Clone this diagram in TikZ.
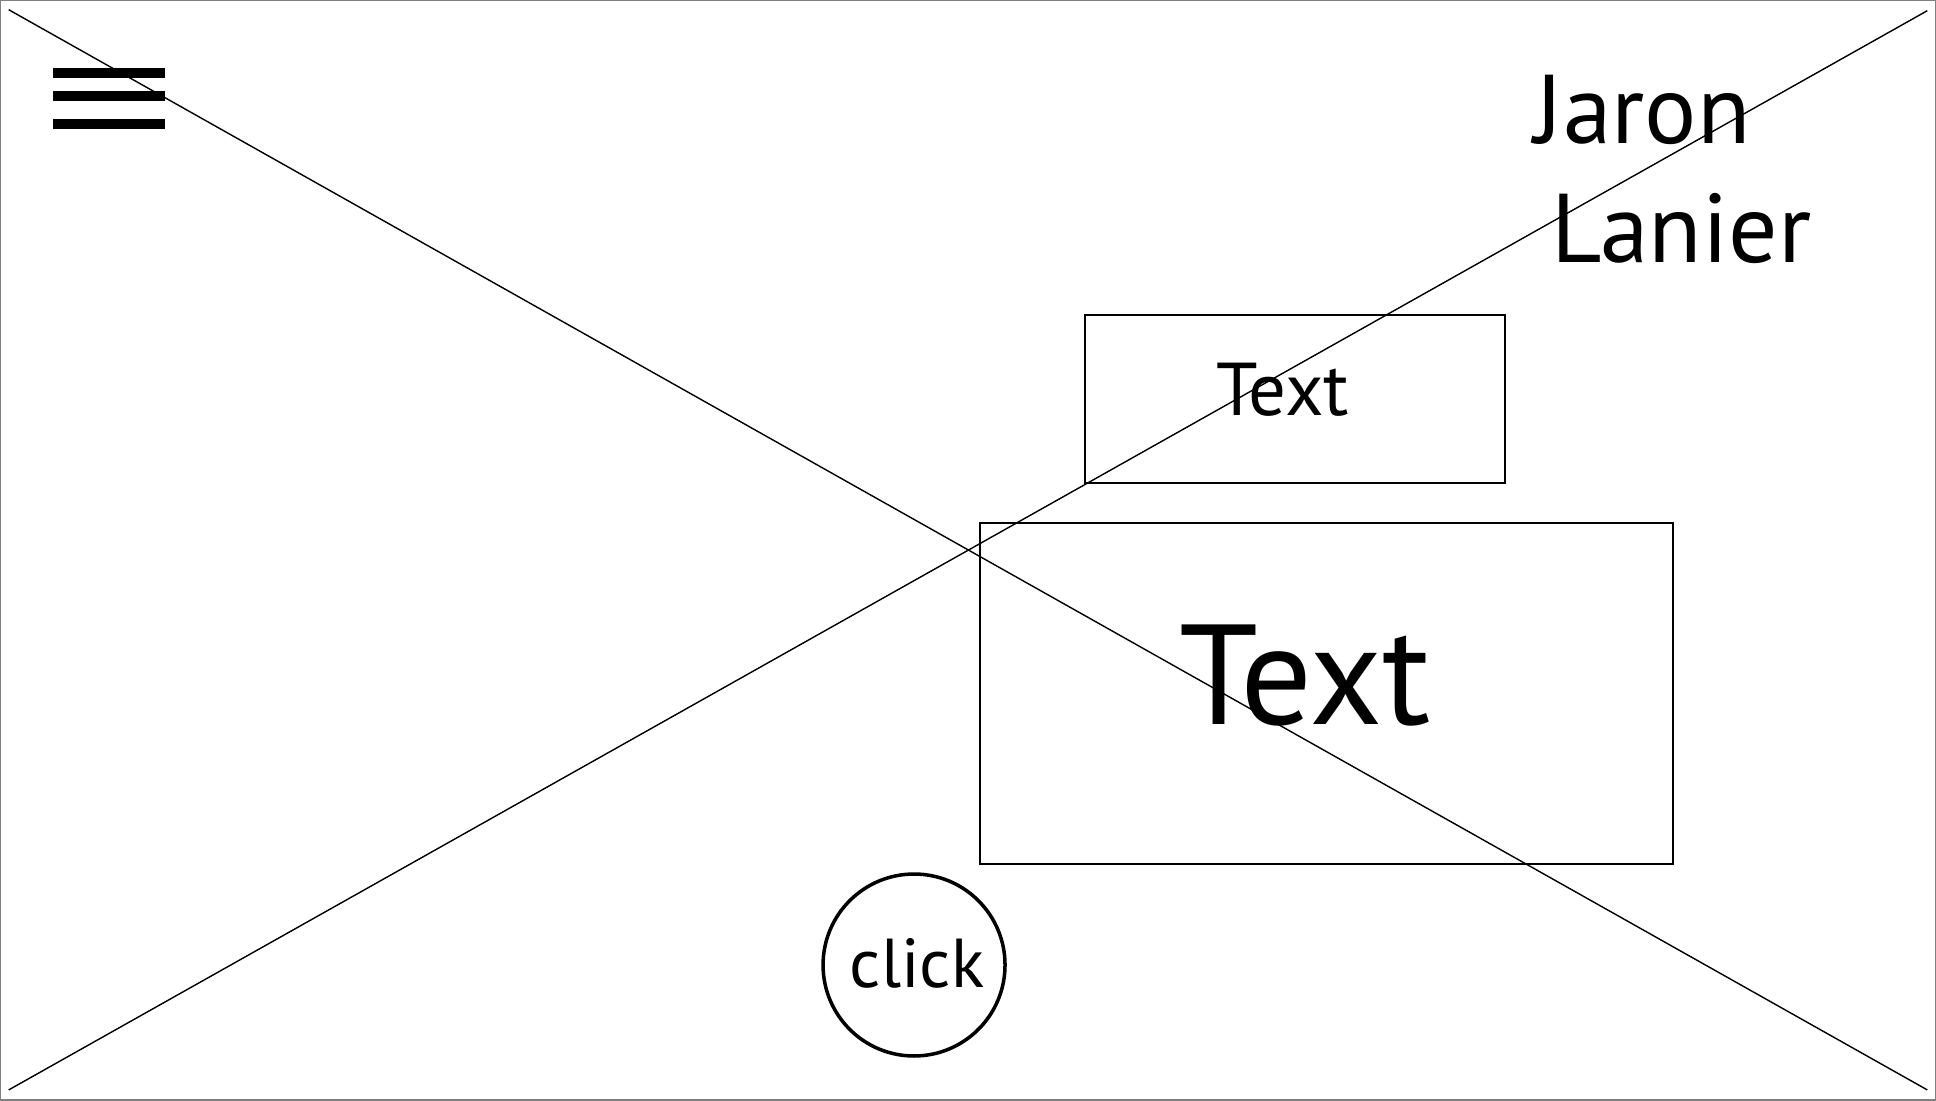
\documentclass[tikz,border=0pt]{standalone}
\usepackage{fontspec}
\setmainfont{PT Sans}
\usetikzlibrary{positioning}

\begin{document}
\begin{tikzpicture}[x=0.01cm,y=-0.01cm,
  frame/.style={draw,line width=0.6pt,inner sep=0pt},
  word/.style={inner sep=0pt,anchor=base}]
% page border
\draw[gray,line width=0.4pt] (0,0) rectangle (1936,1100);
\useasboundingbox (0,0) rectangle (1936,1100);
% cross
\coordinate (tl) at (8,9);
\coordinate (tr) at (1928,10);
\coordinate (bl) at (8,1090);
\coordinate (br) at (1928,1090);
\draw[line width=0.4pt] (tl)--(br);
\draw[line width=0.4pt] (bl)--(tr);
% menu icon
\foreach \y in {67,90,118}
  \fill (52,\y) rectangle (164,\y+10);
% name
\node[word,font=\fontsize{27.8}{30}\selectfont] (jaron) at (1643,143) {Jaron};
\node[word,font=\fontsize{27.8}{30}\selectfont] (lanier) at (1682,262) {Lanier};
% boxes
\node[frame,minimum width=4.20cm,minimum height=1.68cm] (small) at (1295,399) {};
\node[word,font=\fontsize{21.3}{24}\selectfont] (smalltext) at (1283,415) {Text};
\node[frame,minimum width=6.93cm,minimum height=3.41cm] (big) at (1326.5,693.5) {};
\node[word,font=\fontsize{40.5}{44}\selectfont] (bigtext) at (1305,724) {Text};
% button
\node[draw,circle,line width=1pt,minimum size=1.82cm,inner sep=0pt] (btn) at (914,965) {};
\node[word,font=\fontsize{19.7}{22}\selectfont] (click) at (917,988) {click};
\end{tikzpicture}
\end{document}
